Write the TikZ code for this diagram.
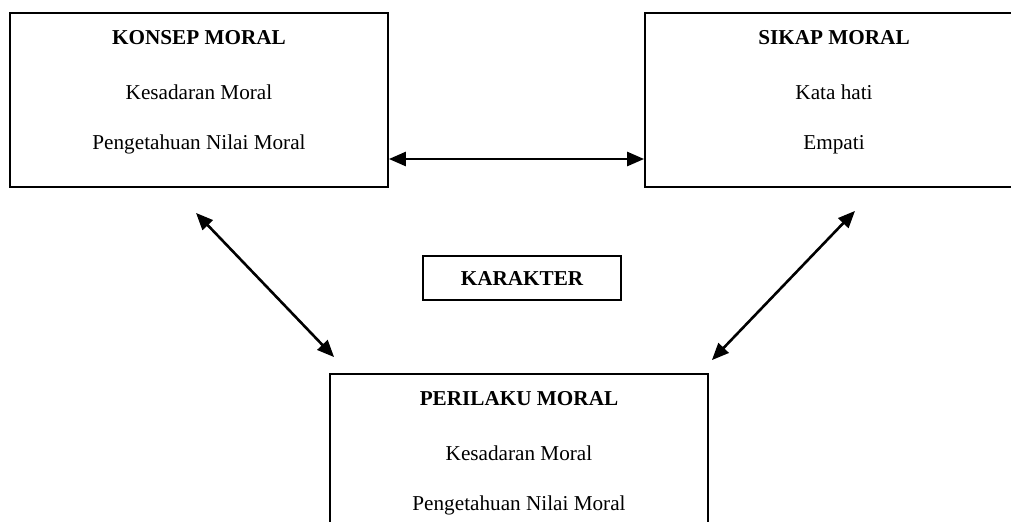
\documentclass[tikz,border=0pt]{standalone}
\usepackage{fontspec}
\setmainfont{Liberation Serif}
\usetikzlibrary{arrows.meta}

\begin{document}
\begin{tikzpicture}[
    x=0.5pt, y=-0.5pt,
    box/.style={
        draw,
        line width=0.9pt,
        minimum width=189pt,
        minimum height=87pt
    },
    boxtext/.style={
        anchor=north,
        inner sep=0pt,
        align=center,
        font=\fontsize{10.6}{13}\selectfont
    },
    arrow/.style={{Triangle[length=8.5pt,width=7pt]}-{Triangle[length=8.5pt,width=7pt]}, line width=1.3pt}
]

% Frame (the boxes on the right and at the bottom run past the edge)
\useasboundingbox (0,0) rectangle (1011,521);
\clip (0,0) rectangle (1011,521);

% Nodes
\node[box] (konsep) at (199,100) {};
\node[box] (sikap) at (834,100) {};
\node[box] (perilaku) at (519,461) {};
\node[draw, line width=0.9pt, minimum width=99pt, minimum height=22pt,
      font=\fontsize{10.6}{13}\selectfont\bfseries] (karakter) at (522,278) {KARAKTER};

% Texts inside the boxes
\node[boxtext] (konseptext) at ([yshift=-9pt]konsep.north)
    {\textbf{KONSEP MORAL}\\[14.5pt] Kesadaran Moral\\[12pt] Pengetahuan Nilai Moral};
\node[boxtext] (sikaptext) at ([yshift=-9pt]sikap.north)
    {\textbf{SIKAP MORAL}\\[14.5pt] Kata hati\\[12pt] Empati};
\node[boxtext] (perilakutext) at ([yshift=-9pt]perilaku.north)
    {\textbf{PERILAKU MORAL}\\[14.5pt] Kesadaran Moral\\[12pt] Pengetahuan Nilai Moral};

% Connectors
\draw[arrow] ([yshift=-29.5pt]konsep.east) -- ([yshift=-29.5pt]sikap.west);
\draw[arrow] ([shift={(-1.5pt,-12.5pt)}]konsep.south) -- ([shift={(2.5pt,8pt)}]perilaku.north west);
\draw[arrow] ([shift={(10.5pt,-11.5pt)}]sikap.south) -- ([shift={(1.5pt,6.5pt)}]perilaku.north east);

\end{tikzpicture}
\end{document}
